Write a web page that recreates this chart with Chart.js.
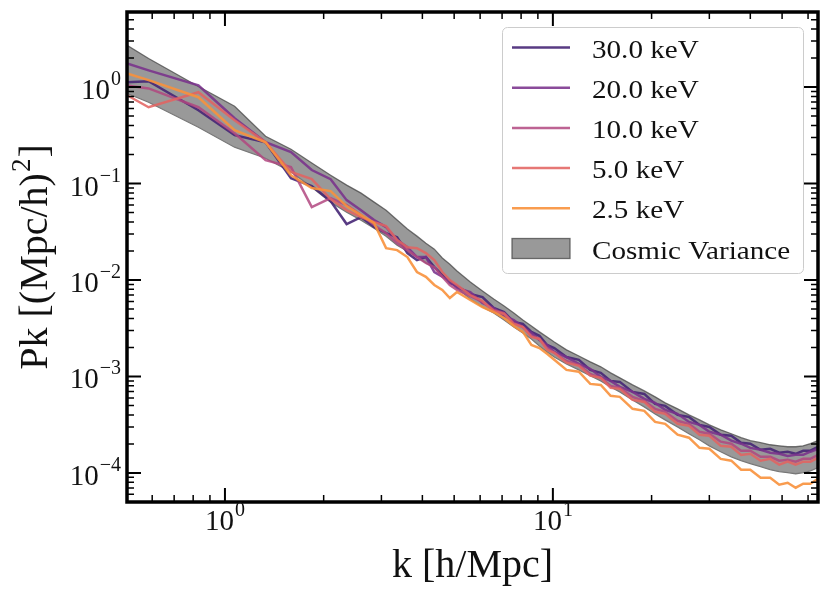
<!DOCTYPE html>
<html><head><meta charset="utf-8">
<script src="https://cdn.jsdelivr.net/npm/chart.js@4.4.1/dist/chart.umd.min.js"></script>
<style>html,body{margin:0;padding:0;background:#fff}#wrap{width:831px;height:599px}</style>
</head><body><div id="wrap"><canvas id="c" width="831" height="599"></canvas></div>
<script>
// ---- data ----
const k = [0.503,0.585,0.83,1.07,1.33,1.59,1.84,2.1,2.35,2.6,2.85,3.1,3.35,3.6,3.85,4.1,4.35,4.6,4.85,5.1,5.6,6.1,6.6,7.1,7.6,8.1,8.6,9.1,9.6,10.1,11,12,13,14,15,16,17.5,19,20.5,22,24,26,28,30,32.5,35,37.5,40,43,46,49,52,55,58,61,64.34];
const pk30 = [1.125,1.152,0.575,0.317,0.268,0.1136,0.094,0.0657,0.038,0.0449,0.0354,0.0306,0.0278,0.019,0.0161,0.0173,0.0136,0.0113,0.00931,0.00867,0.00716,0.00666,0.00513,0.00466,0.00367,0.0035,0.0029,0.00264,0.00212,0.00197,0.00159,0.00149,0.00117,0.00109,0.0009,0.000879,0.000692,0.00066,0.00052,0.000496,0.0004,0.000381,0.000315,0.0003,0.000249,0.000243,0.000206,0.000201,0.000174,0.000178,0.000162,0.000166,0.000158,0.00017,0.00017,0.000187];
const pk20 = [1.76,1.49,1.04,0.476,0.268,0.212,0.138,0.111,0.0673,0.053,0.0418,0.0354,0.0259,0.0219,0.0173,0.0173,0.0121,0.0108,0.00976,0.00827,0.00751,0.00578,0.00513,0.00424,0.00385,0.00326,0.00283,0.00239,0.00212,0.0018,0.00159,0.00135,0.0012,0.000991,0.0009,0.00078,0.000692,0.000586,0.000533,0.000451,0.00041,0.000338,0.000315,0.000267,0.000249,0.000216,0.000201,0.000182,0.000174,0.000162,0.000158,0.00015,0.000154,0.000154,0.000166,0.000178];
const pk10 = [1.04,0.968,0.618,0.332,0.175,0.148,0.057,0.0707,0.0598,0.0471,0.0371,0.0306,0.0241,0.0204,0.0173,0.015,0.0136,0.0108,0.00888,0.00788,0.00682,0.00592,0.00489,0.00455,0.00358,0.00326,0.00264,0.00245,0.00197,0.00176,0.00145,0.00132,0.00106,0.000968,0.000799,0.000762,0.000615,0.000558,0.000462,0.00043,0.000347,0.000323,0.000267,0.000255,0.000211,0.000201,0.00017,0.00017,0.000147,0.000147,0.000134,0.000137,0.000131,0.00014,0.00014,0.000154];
const pk5 = [0.823,0.618,0.884,0.453,0.268,0.132,0.111,0.069,0.053,0.0449,0.0398,0.0362,0.0259,0.0219,0.0214,0.019,0.0161,0.0121,0.01,0.00888,0.00699,0.00606,0.00477,0.00445,0.0035,0.00326,0.00257,0.00245,0.00189,0.00176,0.00139,0.00129,0.00102,0.000968,0.000762,0.000744,0.000572,0.000545,0.00043,0.00041,0.000323,0.000308,0.000249,0.000243,0.000191,0.000187,0.000154,0.000158,0.000134,0.00014,0.000122,0.000131,0.000122,0.000131,0.000131,0.000143];
const pk2_5 = [1.387,1.18,0.785,0.357,0.268,0.122,0.0897,0.0835,0.0584,0.0471,0.0389,0.0214,0.0204,0.0173,0.0121,0.0108,0.00888,0.00788,0.00651,0.00751,0.00621,0.00525,0.00466,0.00404,0.00334,0.0029,0.00212,0.00197,0.00172,0.00149,0.00117,0.00112,0.000838,0.000818,0.00063,0.000615,0.000462,0.00044,0.000338,0.000323,0.000249,0.000232,0.000182,0.000178,0.00014,0.000134,0.000108,0.000108,0.0000892,0.0000892,0.0000755,0.0000792,0.0000703,0.0000774,0.0000774,0.0000871];
const cvUpper = [2.71,1.98,1.015,0.633,0.309,0.227,0.163,0.122,0.0963,0.0796,0.0642,0.053,0.0418,0.0337,0.0285,0.0241,0.0209,0.0169,0.0146,0.0124,0.00953,0.00769,0.00635,0.00538,0.00455,0.00385,0.00334,0.0029,0.00257,0.00228,0.00189,0.00163,0.00142,0.00126,0.00109,0.000968,0.000818,0.000709,0.000615,0.000533,0.000462,0.0004,0.000355,0.000315,0.00028,0.000255,0.000232,0.000216,0.000206,0.000196,0.000191,0.000187,0.000187,0.000191,0.000201,0.000216];
const cvLower = [0.863,0.696,0.383,0.238,0.183,0.132,0.0918,0.0642,0.0505,0.0418,0.0345,0.0285,0.023,0.0199,0.0173,0.015,0.0133,0.0113,0.00976,0.00827,0.00635,0.00525,0.00455,0.00385,0.00326,0.00283,0.00245,0.00207,0.0018,0.00159,0.00135,0.00117,0.00102,0.0009,0.00078,0.000692,0.000572,0.000484,0.00041,0.000355,0.0003,0.000255,0.000221,0.000191,0.000166,0.000147,0.000134,0.000125,0.000116,0.000108,0.000103,0.000101,0.0000982,0.000101,0.000105,0.000114];

const seriesLabels = ['30.0 keV','20.0 keV','10.0 keV','5.0 keV','2.5 keV'];
const bandLabel = 'Cosmic Variance';
const xTitle = 'k [h/Mpc]';
const yTitleMain = 'Pk [(Mpc/h)';
const xMajorTicks = [1, 10];
const xTickExps = ['0', '1'];
const yMajorTicks = [1e-4, 1e-3, 1e-2, 1e-1, 1];
const yTickExps = ['\u22124', '\u22123', '\u22122', '\u22121', '0'];

// ---- styles ----
const lineColors = ['rgba(70,38,118,0.9)','rgba(122,50,140,0.88)','rgba(178,72,128,0.85)','rgba(226,100,98,0.88)','rgba(248,145,60,0.9)'];
const SERIF = '"Liberation Serif", "DejaVu Serif", serif';

const seriesData = [pk30, pk20, pk10, pk5, pk2_5];
const pts = arr => k.map((kv, i) => ({x: kv, y: arr[i]}));

const datasets = seriesData.map((arr, i) => ({
  label: seriesLabels[i], data: pts(arr), borderColor: lineColors[i],
  borderWidth: 2.5, pointRadius: 0, tension: 0, fill: false, order: 4 - i
}));
datasets.push({label: bandLabel, data: pts(cvUpper), borderColor: 'rgba(70,70,70,0.75)', borderWidth: 1.3,
  backgroundColor: 'rgba(128,128,128,0.8)', pointRadius: 0, tension: 0, fill: '+1', order: 10});
datasets.push({label: bandLabel + ' lower', data: pts(cvLower), borderColor: 'rgba(70,70,70,0.75)', borderWidth: 1.3,
  pointRadius: 0, tension: 0, fill: false, order: 11});

function minorList(min, max) {
  const out = [];
  for (let e = Math.floor(Math.log10(min)); e <= Math.ceil(Math.log10(max)); e++) {
    for (let m = 1; m < 10; m++) {
      const v = m * Math.pow(10, e);
      if (v >= min * 0.9999 && v <= max * 1.0001) out.push({v, major: m === 1});
    }
  }
  return out;
}

function drawPow(ctx, x, y, exp, align) {
  const bf = '29px ' + SERIF, ef = '20px ' + SERIF;
  ctx.font = bf; const wb = ctx.measureText('10').width;
  ctx.font = ef; const we = ctx.measureText(exp).width;
  const tot = wb + we + 1;
  let x0 = align === 'center' ? x - tot / 2 : x - tot;
  ctx.textAlign = 'left'; ctx.textBaseline = 'alphabetic';
  ctx.font = bf; ctx.fillText('10', x0, y);
  ctx.font = ef; ctx.fillText(exp, x0 + wb + 1, y - 14);
}

function wideText(ctx, txt, x, y, sx) {
  ctx.save(); ctx.translate(x, y); ctx.scale(sx, 1); ctx.fillText(txt, 0, 0); ctx.restore();
}

const decor = {
  id: 'decor',
  afterDraw(chart) {
    const ctx = chart.ctx, a = chart.chartArea, xs = chart.scales.x, ys = chart.scales.y;
    ctx.save();
    ctx.strokeStyle = '#000'; ctx.fillStyle = '#111';
    minorList(xs.min, xs.max).forEach(t => {
      const p = xs.getPixelForValue(t.v), L = t.major ? 14 : 7;
      ctx.lineWidth = t.major ? 2 : 1.5;
      ctx.beginPath(); ctx.moveTo(p, a.bottom); ctx.lineTo(p, a.bottom - L);
      ctx.moveTo(p, a.top); ctx.lineTo(p, a.top + L); ctx.stroke();
    });
    minorList(ys.min, ys.max).forEach(t => {
      const p = ys.getPixelForValue(t.v), L = t.major ? 14 : 7;
      ctx.lineWidth = t.major ? 2 : 1.5;
      ctx.beginPath(); ctx.moveTo(a.left, p); ctx.lineTo(a.left + L, p);
      ctx.moveTo(a.right, p); ctx.lineTo(a.right - L, p); ctx.stroke();
    });
    ctx.lineWidth = 3.5;
    ctx.strokeRect(a.left, a.top, a.right - a.left, a.bottom - a.top);
    ctx.fillStyle = '#111';
    xMajorTicks.forEach((v, i) => drawPow(ctx, xs.getPixelForValue(v), a.bottom + 28, xTickExps[i], 'center'));
    yMajorTicks.forEach((v, i) => drawPow(ctx, a.left - 6, ys.getPixelForValue(v) + 12, yTickExps[i], 'right'));
    ctx.font = '40px ' + SERIF; ctx.textAlign = 'center'; ctx.textBaseline = 'alphabetic';
    ctx.fillText(xTitle, (a.left + a.right) / 2, 577);
    ctx.save();
    ctx.translate(47, (a.top + a.bottom) / 2); ctx.rotate(-Math.PI / 2);
    ctx.font = '40px ' + SERIF; const w1 = ctx.measureText(yTitleMain).width;
    ctx.font = '27px ' + SERIF; const w2 = ctx.measureText('2').width;
    ctx.font = '40px ' + SERIF; const w3 = ctx.measureText(']').width;
    const tot = w1 + w2 + w3 + 2; let x0 = -tot / 2;
    ctx.textAlign = 'left';
    ctx.fillText(yTitleMain, x0, 0);
    ctx.font = '27px ' + SERIF; ctx.fillText('2', x0 + w1 + 1, -17);
    ctx.font = '40px ' + SERIF; ctx.fillText(']', x0 + w1 + w2 + 2, 0);
    ctx.restore();
    // legend
    const lx = 502.5, ly = 27.5, lw = 301, lh = 246;
    ctx.beginPath(); ctx.roundRect(lx, ly, lw, lh, 5);
    ctx.fillStyle = 'rgba(255,255,255,0.85)'; ctx.fill();
    ctx.lineWidth = 1; ctx.strokeStyle = '#cccccc'; ctx.stroke();
    ctx.font = '26px ' + SERIF; ctx.textAlign = 'left'; ctx.textBaseline = 'alphabetic';
    const ds = chart.data.datasets;
    for (let i = 0; i < 5; i++) {
      const yc = 47.5 + i * 40.2;
      ctx.strokeStyle = ds[i].borderColor; ctx.lineWidth = 2.5;
      ctx.beginPath(); ctx.moveTo(512, yc); ctx.lineTo(570, yc); ctx.stroke();
      ctx.fillStyle = '#111'; wideText(ctx, ds[i].label, 592, yc + 10, 1.12);
    }
    const yc = 47.5 + 5 * 40.2;
    ctx.fillStyle = ds[5].backgroundColor; ctx.fillRect(512, yc - 10, 58, 20);
    ctx.strokeStyle = 'rgba(70,70,70,0.75)'; ctx.lineWidth = 1.3; ctx.strokeRect(512, yc - 10, 58, 20);
    ctx.fillStyle = '#111'; wideText(ctx, ds[5].label, 592, yc + 10, 1.12);
    ctx.restore();
  }
};

new Chart(document.getElementById('c'), {
  type: 'line',
  data: {datasets},
  options: {
    responsive: false, animation: false, devicePixelRatio: 1,
    layout: {padding: {left: 127, top: 12, right: 13, bottom: 97}},
    plugins: {legend: {display: false}, tooltip: {enabled: false}},
    scales: {
      x: {type: 'logarithmic', min: 0.5027, max: 64.34, display: false},
      y: {type: 'logarithmic', min: 5e-5, max: 6, display: false}
    }
  },
  plugins: [decor]
});
</script></body></html>
